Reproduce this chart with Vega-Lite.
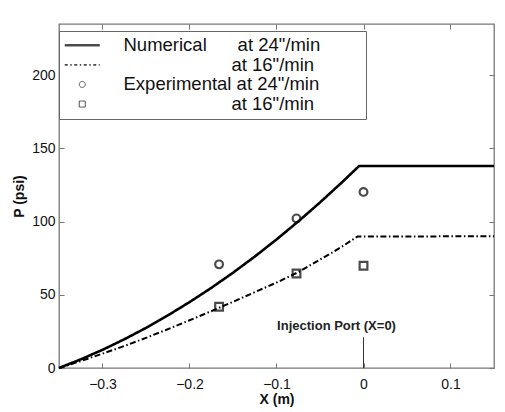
{
  "$schema": "https://vega.github.io/schema/vega-lite/v6.json",
  "width": 435,
  "height": 344,
  "autosize": "none",
  "padding": {"left": 59, "top": 24, "right": 11, "bottom": 44},
  "background": "white",
  "config": {
    "font": "Liberation Sans",
    "view": {"stroke": "#777", "strokeWidth": 1.3},
    "axis": {"domain": false, "grid": false, "labelFont": "Liberation Sans", "labelFontSize": 14, "labelColor": "#111", "tickColor": "#777", "tickSize": -5, "titleFont": "Liberation Sans", "titleFontSize": 14, "titleFontWeight": "bold", "titleColor": "#111"}
  },
  "datasets": {
    "curves": [
      {"series": "num24", "x": -0.35, "P": 0},
      {"series": "num24", "x": -0.325, "P": 5.9},
      {"series": "num24", "x": -0.3, "P": 12.4},
      {"series": "num24", "x": -0.275, "P": 19.6},
      {"series": "num24", "x": -0.25, "P": 27.4},
      {"series": "num24", "x": -0.225, "P": 35.9},
      {"series": "num24", "x": -0.2, "P": 45.0},
      {"series": "num24", "x": -0.175, "P": 54.7},
      {"series": "num24", "x": -0.15, "P": 65.1},
      {"series": "num24", "x": -0.125, "P": 76.1},
      {"series": "num24", "x": -0.1, "P": 87.8},
      {"series": "num24", "x": -0.075, "P": 100.1},
      {"series": "num24", "x": -0.05, "P": 113.1},
      {"series": "num24", "x": -0.025, "P": 126.7},
      {"series": "num24", "x": -0.005, "P": 138},
      {"series": "num24", "x": 0.15, "P": 138},
      {"series": "num16", "x": -0.35, "P": 0},
      {"series": "num16", "x": -0.325, "P": 4.7},
      {"series": "num16", "x": -0.3, "P": 9.8},
      {"series": "num16", "x": -0.275, "P": 15.0},
      {"series": "num16", "x": -0.25, "P": 20.6},
      {"series": "num16", "x": -0.225, "P": 26.5},
      {"series": "num16", "x": -0.2, "P": 32.6},
      {"series": "num16", "x": -0.175, "P": 38.8},
      {"series": "num16", "x": -0.15, "P": 45.2},
      {"series": "num16", "x": -0.125, "P": 51.8},
      {"series": "num16", "x": -0.1, "P": 58.3},
      {"series": "num16", "x": -0.075, "P": 65.5},
      {"series": "num16", "x": -0.05, "P": 74.0},
      {"series": "num16", "x": -0.025, "P": 82.8},
      {"series": "num16", "x": -0.007, "P": 89.8},
      {"series": "num16", "x": 0.15, "P": 90}
    ],
    "exp": [
      {"series": "exp24", "x": -0.166, "P": 70.8},
      {"series": "exp24", "x": -0.077, "P": 102.2},
      {"series": "exp24", "x": 0.0, "P": 120.3},
      {"series": "exp16", "x": -0.166, "P": 41.9},
      {"series": "exp16", "x": -0.077, "P": 64.6},
      {"series": "exp16", "x": 0.0, "P": 69.8}
    ],
    "port": [{"x": 0, "P": 0, "P2": 21, "label": "Injection Port (X=0)", "xt": -0.031, "Pt": 28.7}]
  },
  "layer": [
    {
      "data": {"name": "curves"},
      "mark": {"type": "line", "color": "black", "strokeCap": "butt"},
      "encoding": {
        "x": {"field": "x", "type": "quantitative", "scale": {"domain": [-0.35, 0.15], "nice": false, "zero": false}, "axis": {"orient": "bottom", "values": [-0.3, -0.2, -0.1, 0, 0.1], "format": ".1~f", "title": "X (m)", "labelPadding": 14, "titlePadding": 1}},
        "y": {"field": "P", "type": "quantitative", "scale": {"domain": [0, 235], "nice": false}, "axis": {"orient": "left", "values": [0, 50, 100, 150, 200], "title": "P (psi)", "labelPadding": 9, "titlePadding": 5}},
        "strokeDash": {"field": "series", "type": "nominal", "scale": {"domain": ["num24", "num16"], "range": [[1, 0], [6, 2.5, 1.5, 2.5]]}, "legend": null},
        "strokeWidth": {"field": "series", "type": "nominal", "scale": {"domain": ["num24", "num16"], "range": [2.6, 2]}, "legend": null}
      }
    },
    {
      "data": {"name": "exp"},
      "mark": {"type": "point", "filled": false, "color": "black", "size": 60, "strokeWidth": 2.2},
      "encoding": {
        "x": {"field": "x", "type": "quantitative", "axis": {"orient": "top", "values": [-0.3, -0.2, -0.1, 0, 0.1], "labels": false, "title": null}},
        "y": {"field": "P", "type": "quantitative", "axis": {"orient": "right", "values": [0, 50, 100, 150, 200], "labels": false, "title": null}},
        "shape": {
          "field": "series", "type": "nominal",
          "scale": {"domain": ["num24", "num16", "exp24", "exp16"], "range": ["stroke", "stroke", "circle", "square"]},
          "legend": {
            "title": null, "orient": "none", "legendX": 0, "legendY": 7, "padding": 5, "rowPadding": 0.6,
            "strokeColor": "#666", "fillColor": "white", "cornerRadius": 0,
            "symbolSize": 1225, "symbolOffset": 9, "labelOffset": 32, "labelLimit": 500,
            "labelFont": "Liberation Sans", "labelFontSize": 18.5, "labelColor": "#111",
            "labelExpr": "datum.value == 'num24' ? 'Numerical\u00a0\u00a0\u00a0\u00a0\u00a0\u00a0at 24\"/min' : datum.value == 'num16' ? '\u200b\u00a0\u00a0\u00a0\u00a0\u00a0\u00a0\u00a0\u00a0\u00a0\u00a0\u00a0\u00a0\u00a0\u00a0\u00a0\u00a0\u00a0\u00a0\u00a0\u00a0\u00a0at 16\"/min' : datum.value == 'exp24' ? 'Experimental at 24\"/min\u00a0\u00a0\u00a0\u00a0\u00a0\u00a0\u00a0\u00a0\u200b' : '\u200b\u00a0\u00a0\u00a0\u00a0\u00a0\u00a0\u00a0\u00a0\u00a0\u00a0\u00a0\u00a0\u00a0\u00a0\u00a0\u00a0\u00a0\u00a0\u00a0\u00a0\u00a0at 16\"/min'",
            "encoding": {
              "symbols": {
                "size": {"value": {"expr": "datum.value == 'exp24' || datum.value == 'exp16' ? 36 : 1225"}},
                "strokeDash": {"value": {"expr": "datum.value == 'num16' ? [3, 2.5, 1.5, 2.5] : [1, 0]"}},
                "strokeWidth": {"value": {"expr": "datum.value == 'num24' ? 2.6 : datum.value == 'num16' ? 1.6 : 1"}},
                "stroke": {"value": "black"},
                "fill": {"value": "transparent"}
              }
            }
          }
        }
      }
    },
    {
      "data": {"name": "port"},
      "mark": {"type": "rule", "color": "#333", "strokeWidth": 1},
      "encoding": {
        "x": {"field": "x", "type": "quantitative", "axis": null},
        "y": {"field": "P", "type": "quantitative", "axis": null},
        "y2": {"field": "P2"}
      }
    },
    {
      "data": {"name": "port"},
      "mark": {"type": "text", "font": "Liberation Sans", "fontSize": 13, "fontWeight": "bold", "color": "#222", "align": "center", "baseline": "middle"},
      "encoding": {
        "x": {"field": "xt", "type": "quantitative", "axis": null},
        "y": {"field": "Pt", "type": "quantitative", "axis": null},
        "text": {"field": "label"}
      }
    }
  ],
  "resolve": {"axis": {"x": "independent", "y": "independent"}}
}
